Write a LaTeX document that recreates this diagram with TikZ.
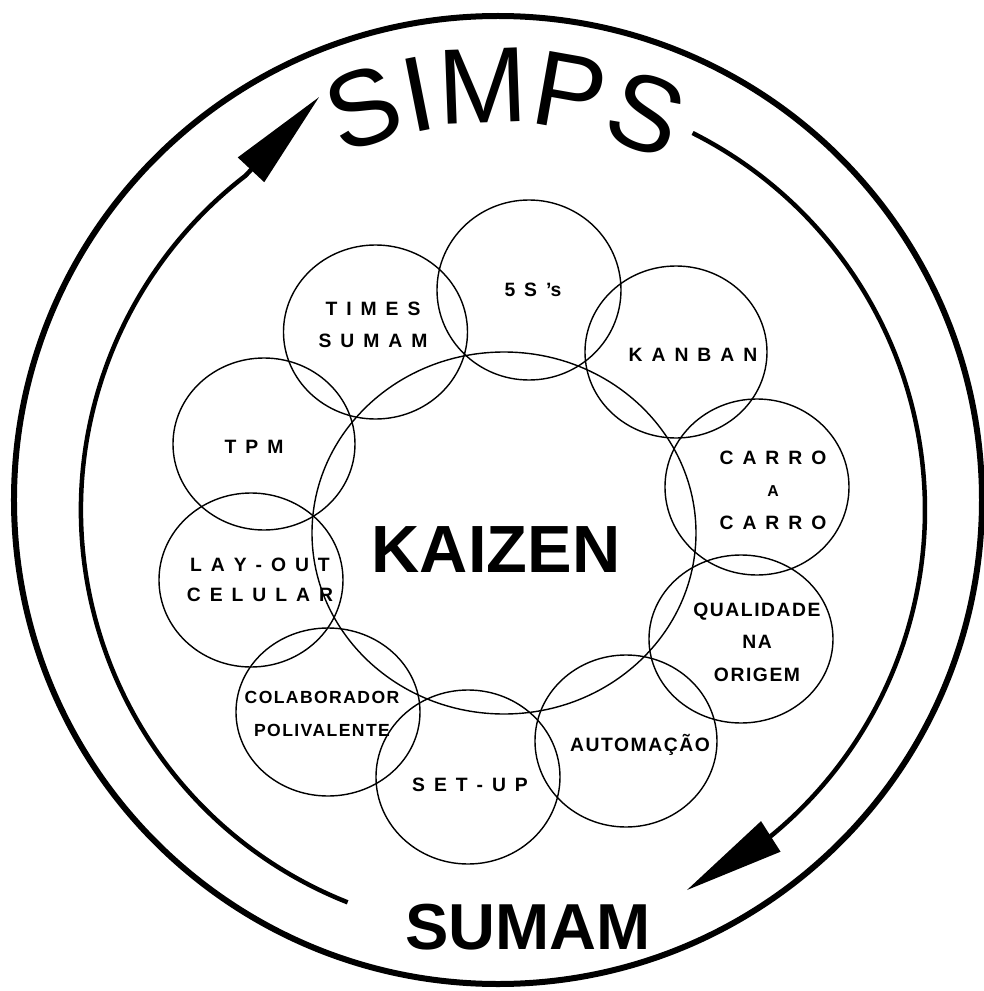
\documentclass[tikz,border=0pt]{standalone}
\usepackage{fontspec}
\setmainfont{Liberation Sans}
\usetikzlibrary{arrows.meta, decorations.text}
\newcommand\widegap{\spaceskip 5.1pt\relax}
\newcommand\tracked{\addfontfeature{LetterSpace=8}}

\begin{document}
\begin{tikzpicture}[x=0.02cm, y=0.02cm,
    rim/.style={line width=0.12cm},
    flow/.style={line width=0.09cm, -{Triangle[length=2cm, width=0.7cm]}},
    bubble/.style={line width=0.8pt},
    tag/.style={font=\bfseries\fontsize{11}{18.5}\selectfont\widegap, align=center, inner sep=0pt},
    word/.style={font=\bfseries\fontsize{#1}{18.5}\selectfont\tracked, align=center, inner sep=0pt},
    word/.default=11,
    title/.style={font=\bfseries\fontsize{#1}{40}\selectfont, inner sep=0pt},
    title/.default=37]

    \useasboundingbox (-498,-491) rectangle (486,500);

    \coordinate (hub) at (0,0);
    \coordinate (core) at (5,-10);
    \draw[rim] (hub) circle [radius=484];
    \draw[flow] (core) ++(248.4:422) arc [start angle=248.4, end angle=127.6, radius=422] -- ++(46.9:108);
    \draw[flow] (core) ++(63.3:422) arc [start angle=63.3, end angle=-50.9, radius=422] -- ++(212.6:98);
    \path[decorate, decoration={text along path, text align=center, text={|\fontsize{61}{70}\selectfont|SIMPS}}]
        (hub) ++(169:377) arc [start angle=169, end angle=9, radius=377];

    \draw[bubble] (6,-33) ellipse [x radius=192, y radius=181];
    \draw[bubble] (-122.5,168) ellipse [x radius=92, y radius=87];
    \draw[bubble] (31,210) ellipse [x radius=92, y radius=90];
    \draw[bubble] (178,148) ellipse [x radius=91, y radius=86];
    \draw[bubble] (259,13) ellipse [x radius=92, y radius=88];
    \draw[bubble] (243,-139) ellipse [x radius=92, y radius=84];
    \draw[bubble] (128,-241) ellipse [x radius=91, y radius=86];
    \draw[bubble] (-30,-277) ellipse [x radius=92, y radius=87];
    \draw[bubble] (-170,-212) ellipse [x radius=92, y radius=84];
    \draw[bubble] (-247,-80) ellipse [x radius=92, y radius=87];
    \draw[bubble] (-234,56) ellipse [x radius=91, y radius=86];

    \node[title=38] (kaizen) at (-2,-50) {KAIZEN};
    \node[title] (sumam) at (30,-427) {SUMAM};
    \node[tag] (times) at (-125,175) {T I M E S\\S U M A M};
    \node[tag] (fives) at (35,210) {5 S ’s};
    \node[tag] (kanban) at (195,145) {K A N B A N};
    \node[tag] (carro) at (275,10) {C A R R O\\{\fontsize{9}{18.5}\selectfont A}\\C A R R O};
    \node[word] (origem) at (259,-142) {QUALIDADE\\NA\\ORIGEM};
    \node[word] (automacao) at (142,-245) {AUTOMAÇÃO};
    \node[tag] (setup) at (-28,-285) {S E T - U P};
    \node[word=10] (polivalente) at (-176,-214) {COLABORADOR\\POLIVALENTE};
    \node[tag] (layout) at (-238,-80) {L A Y - O U T\\[-1.5pt]C E L U L A R};
    \node[tag] (tpm) at (-244,53) {T P M};
\end{tikzpicture}
\end{document}
